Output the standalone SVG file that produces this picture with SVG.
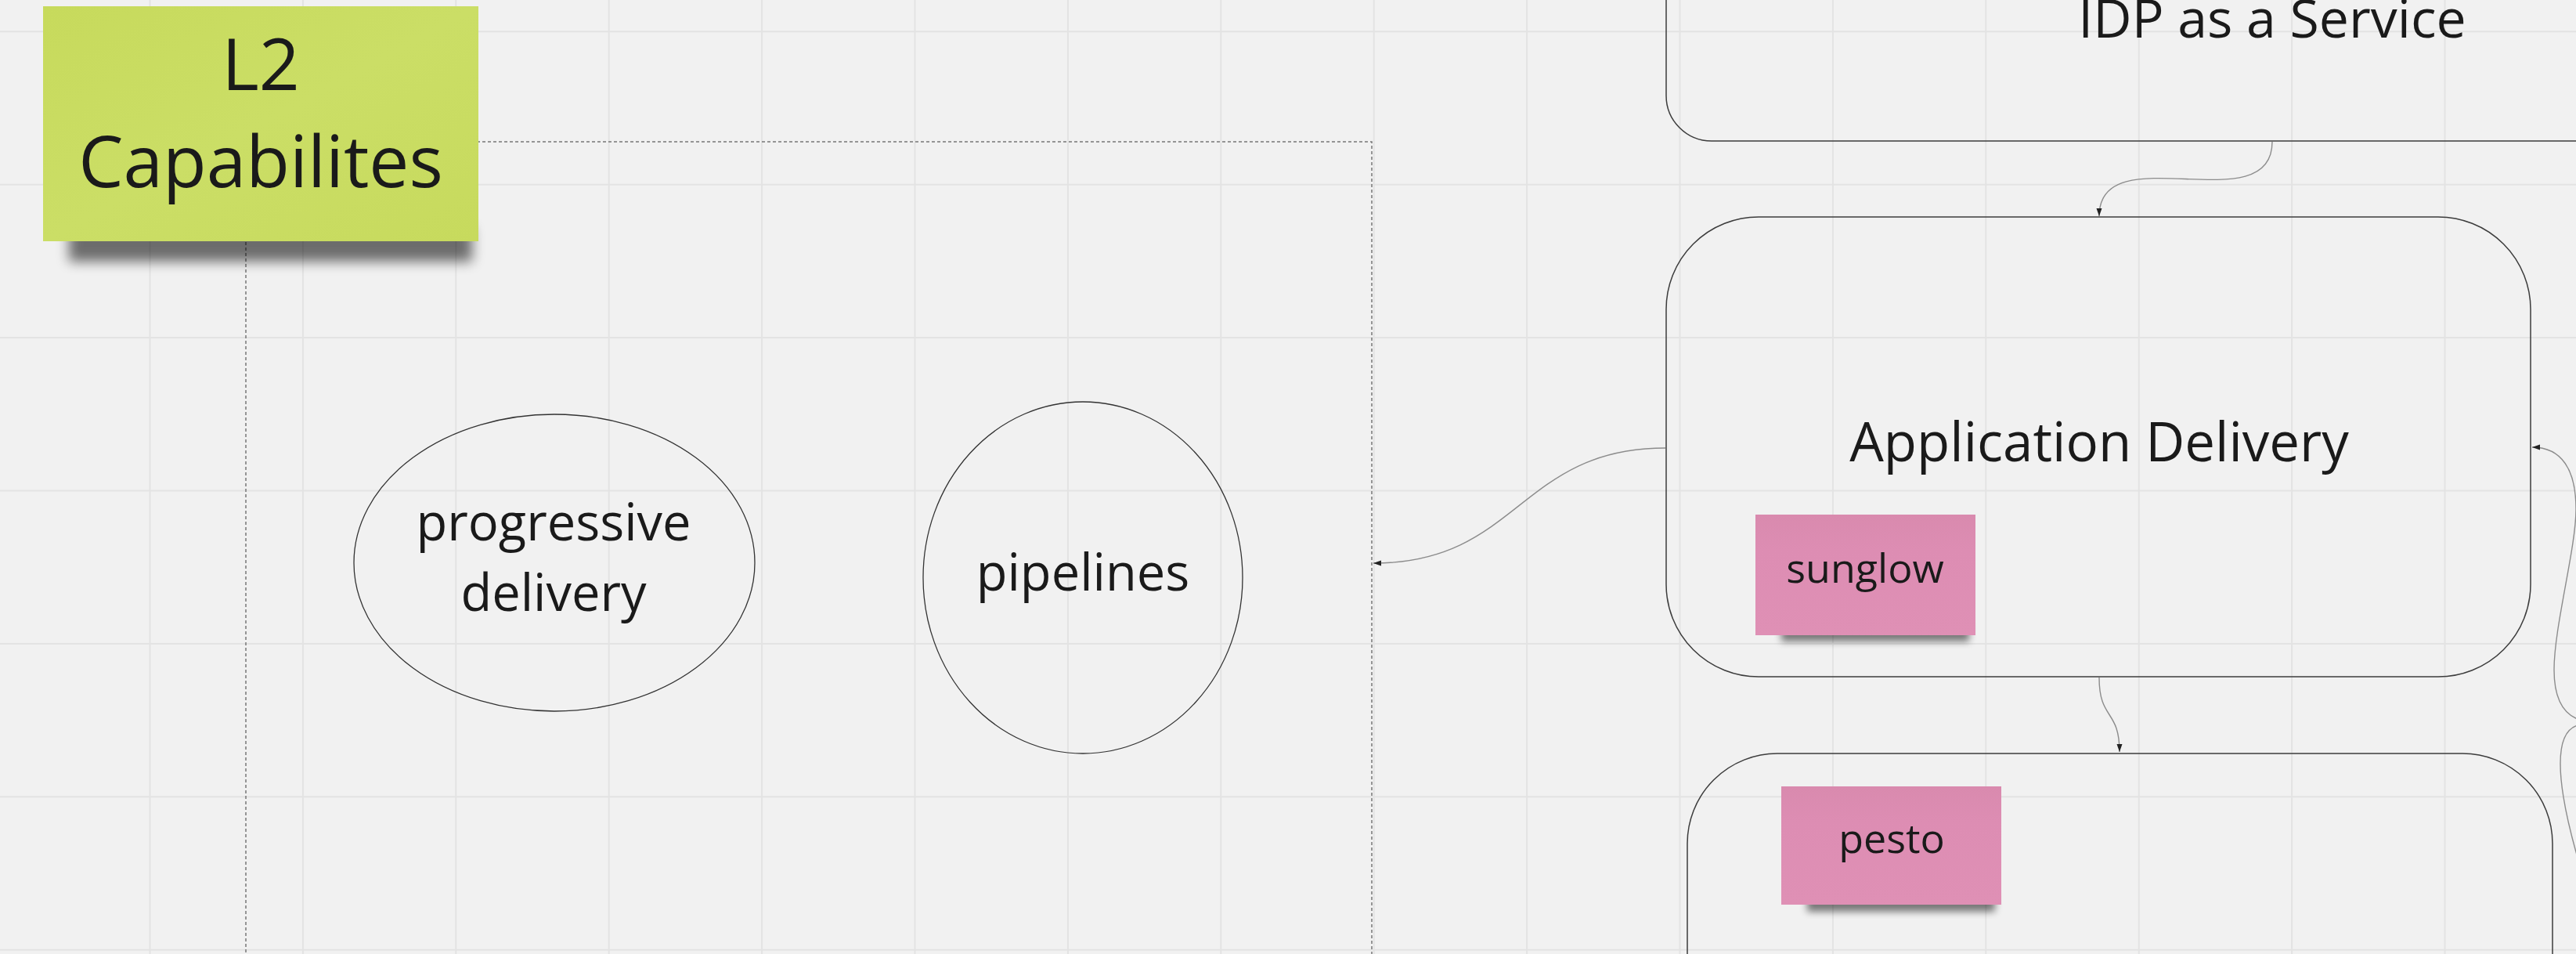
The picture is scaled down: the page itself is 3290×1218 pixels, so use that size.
<svg xmlns="http://www.w3.org/2000/svg" width="3290" height="1218" viewBox="0 0 3290 1218">
  <defs>
    <pattern id="grid" x="190.5" y="39.3" width="195.4" height="195.4" patternUnits="userSpaceOnUse">
      <path d="M1 0V195.4M0 1H195.4" stroke="#e3e3e3" stroke-width="2" fill="none"/>
    </pattern>
    <linearGradient id="lime" x1="0" y1="0" x2="1" y2="1">
      <stop offset="0" stop-color="#c7da5c"/>
      <stop offset="0.5" stop-color="#cbde66"/>
      <stop offset="1" stop-color="#c7da5d"/>
    </linearGradient>
    <linearGradient id="pink" x1="0" y1="0" x2="0" y2="1">
      <stop offset="0" stop-color="#d98aae"/>
      <stop offset="0.3" stop-color="#dd8db3"/>
      <stop offset="1" stop-color="#df90b5"/>
    </linearGradient>
    <filter id="shadow" x="-20%" y="-100%" width="140%" height="300%">
      <feGaussianBlur stdDeviation="8"/>
    </filter>
    <filter id="shadowSm" x="-20%" y="-100%" width="140%" height="300%">
      <feGaussianBlur stdDeviation="5"/>
    </filter>
    <marker id="arrow" markerUnits="userSpaceOnUse" markerWidth="12" markerHeight="8" refX="10" refY="3.5" orient="auto">
      <path d="M0,0 L10,3.5 L0,7 z" fill="#222"/>
    </marker>
  </defs>
  <style>
    .txt { font-family: "Open Sans", "Noto Sans", "Liberation Sans", sans-serif; fill: #1a1a1a; text-anchor: middle; }
    .box { fill: none; stroke: #3c3c3c; stroke-width: 1.5; }
    .ell { fill: none; stroke: #333; stroke-width: 1.3; }
    .frame { fill: none; stroke: #777; stroke-width: 1.5; stroke-dasharray: 4 3; }
    .conn { fill: none; stroke: #8c8c8c; stroke-width: 1.4; }
  </style>

  <rect x="0" y="0" width="3290" height="1218" fill="#f1f1f1"/>
  <rect x="0" y="0" width="3290" height="1218" fill="url(#grid)"/>

  <g id="frame-l2">
    <path class="frame" d="M314,1230 V181 H1752 V1230"/>
  </g>

  <g id="sticky-l2">
    <rect x="88" y="290" width="515" height="44" fill="#000" opacity="0.55" filter="url(#shadow)"/>
    <rect x="55" y="8" width="556" height="300" fill="url(#lime)"/>
    <text class="txt" x="333" y="115" font-size="91">L2</text>
    <text class="txt" x="333" y="239" font-size="91">Capabilites</text>
  </g>

  <g id="node-progressive-delivery">
    <ellipse class="ell" cx="708" cy="718.5" rx="256" ry="189.5"/>
    <text class="txt" x="707" y="690" font-size="65">progressive</text>
    <text class="txt" x="707" y="780" font-size="65">delivery</text>
  </g>

  <g id="node-pipelines">
    <ellipse class="ell" cx="1383" cy="737.5" rx="204" ry="224.5"/>
    <text class="txt" x="1383" y="754" font-size="65">pipelines</text>
  </g>

  <g id="node-idp">
    <rect class="box" x="2128" y="-420" width="1548" height="600" rx="58"/>
    <text class="txt" x="2902" y="48" font-size="68">IDP as a Service</text>
  </g>

  <g id="node-application-delivery">
    <rect class="box" x="2128" y="277" width="1104" height="587" rx="118"/>
    <text class="txt" x="2681" y="589" font-size="69">Application Delivery</text>
  </g>

  <g id="sticky-sunglow">
    <rect x="2275" y="795" width="240" height="24" fill="#000" opacity="0.5" filter="url(#shadowSm)"/>
    <rect x="2242" y="657" width="281" height="154" fill="url(#pink)"/>
    <text class="txt" x="2382" y="744" font-size="52">sunglow</text>
  </g>

  <g id="node-lower">
    <rect class="box" x="2155" y="962" width="1105" height="700" rx="115"/>
  </g>

  <g id="sticky-pesto">
    <rect x="2308" y="1140" width="240" height="24" fill="#000" opacity="0.5" filter="url(#shadowSm)"/>
    <rect x="2275" y="1004" width="281" height="151" fill="url(#pink)"/>
    <text class="txt" x="2416" y="1089" font-size="52">pesto</text>
  </g>

  <g id="connectors">
    <path class="conn" d="M2902,181 C2902,285 2681,172 2681,276" marker-end="url(#arrow)"/>
    <path class="conn" d="M2681,865 C2681,920 2707,905 2707,960" marker-end="url(#arrow)"/>
    <path class="conn" d="M2127,572 C1940,572 1940,719 1754,719" marker-end="url(#arrow)"/>
    <path class="conn" d="M3292,918 C3272,910 3262,890 3262,855 C3262,800 3290,700 3290,650 C3290,600 3272,571 3234,571" marker-end="url(#arrow)"/>
    <path class="conn" d="M3292,926 C3278,930 3270,945 3270,975 C3270,1010 3282,1060 3292,1095"/>
  </g>
</svg>
